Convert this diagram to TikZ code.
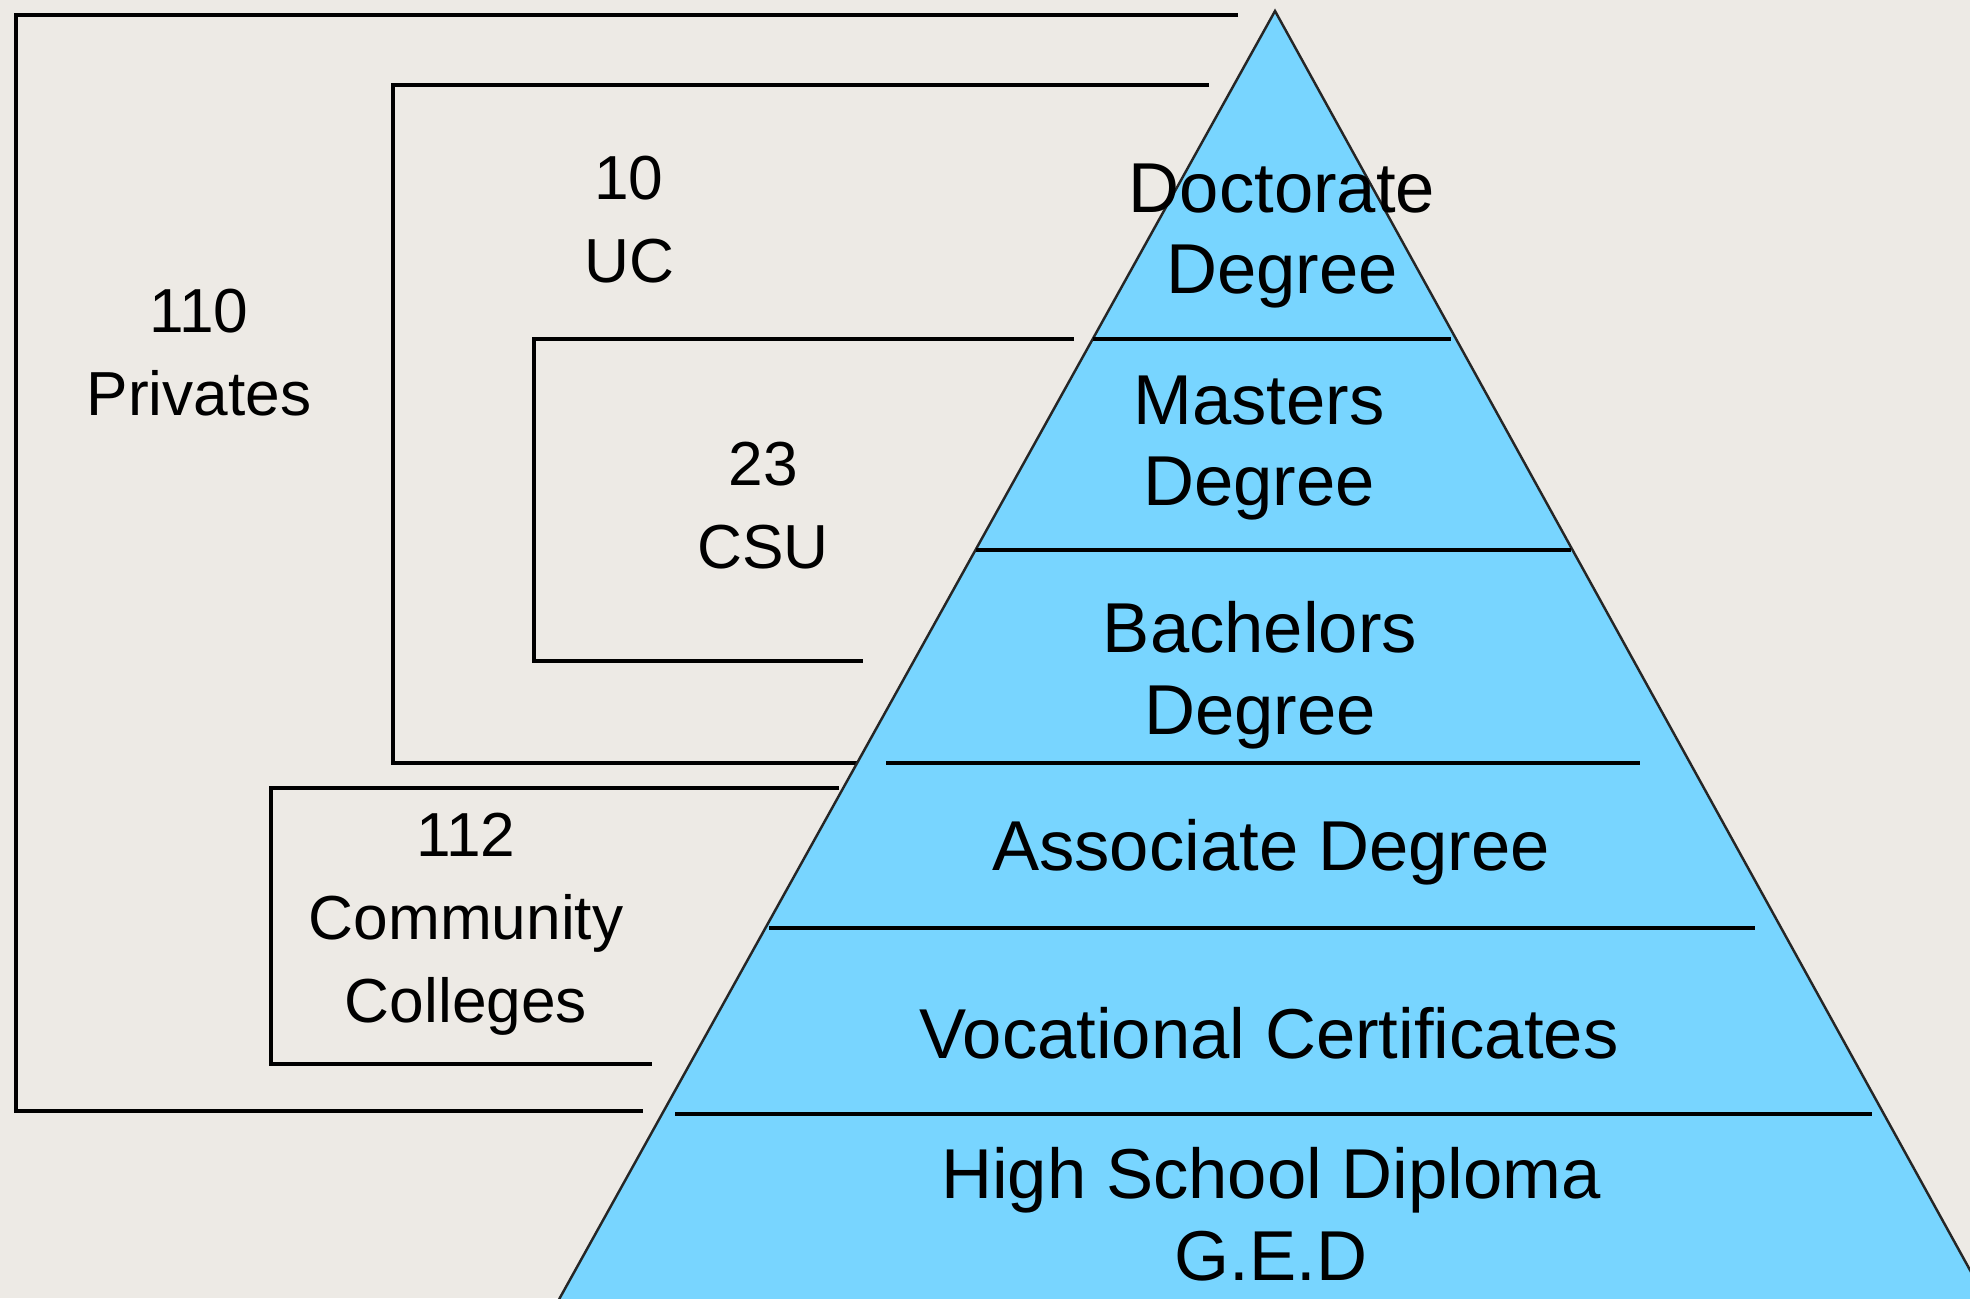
\documentclass[tikz,border=0pt]{standalone}
\usepackage{fontspec}
\setmainfont{Liberation Sans}
\usepackage{xcolor}
\usepackage{tikz}
\usetikzlibrary{positioning,calc}
\definecolor{paper}{RGB}{237,234,229}
\definecolor{skyblue}{RGB}{120,213,255}

\begin{document}
\begin{tikzpicture}[line width=0.9pt,
  tier/.style={align=center,font=\fontsize{20.1}{23.3}\selectfont},
  count/.style={align=center,font=\fontsize{17.7}{23.6}\selectfont}]
\clip (0,0) rectangle (19.70,12.98);
\fill[paper] (0,0) rectangle (19.70,12.98);
\draw (12.38,12.83) -- (0.16,12.83) -- (0.16,1.87) -- (6.43,1.87);
\draw (12.09,12.13) -- (3.93,12.13) -- (3.93,5.35) -- (8.60,5.35);
\draw (10.74,9.59) -- (5.34,9.59) -- (5.34,6.37) -- (8.63,6.37);
\draw (8.39,5.10) -- (2.71,5.10) -- (2.71,2.34) -- (6.52,2.34);
\filldraw[fill=skyblue,draw=black!85,line width=0.7pt] (12.75,12.87) coordinate (apex) -- (20.13,-0.5) -- (5.32,-0.5) -- cycle;
\draw (10.93,9.59) -- (14.51,9.59);
\draw (9.76,7.48) -- (15.71,7.48);
\draw (8.86,5.35) -- (16.40,5.35);
\draw (7.69,3.70) -- (17.55,3.70);
\draw (6.75,1.84) -- (18.72,1.84);
\node[count] (priv) at (1.99,9.45) {110\\Privates};
\node[count] (uc) at (6.29,10.78) {10\\UC};
\node[count] (csu) at (7.63,7.92) {23\\CSU};
\node[count] (cc) at (4.66,3.74) {112\\Community\\Colleges};
\node[tier] (doc) at (12.82,10.62) {Doctorate\\Degree};
\node[tier] (mas) at (12.59,8.50) {Masters\\Degree};
\node[tier] (bac) at (12.60,6.23) {Bachelors\\Degree};
\node[tier] (ass) at (12.71,4.46) {Associate Degree};
\node[tier] (voc) at (12.69,2.65) {Vocational Certificates};
\node[tier] (hsd) at (12.71,0.84) {High School Diploma\\G.E.D};
\end{tikzpicture}
\end{document}
